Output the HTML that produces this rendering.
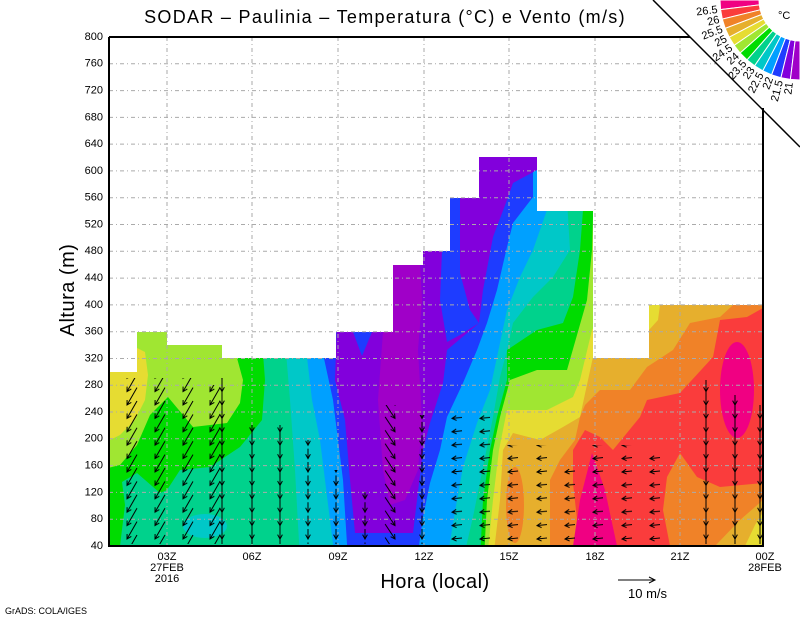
<!DOCTYPE html>
<html><head><meta charset="utf-8"><style>
html,body{margin:0;padding:0;background:#fff;}
svg{display:block;font-family:"Liberation Sans",sans-serif;}
</style></head><body>
<svg width="800" height="618" viewBox="0 0 800 618" xmlns="http://www.w3.org/2000/svg" xmlns:xlink="http://www.w3.org/1999/xlink">
<defs>
<clipPath id="cp"><path d="M109,546 L109,372 L137,372 L137,332 L167,332 L167,345 L222,345 L222,358 L336,358 L336,332 L393,332 L393,265 L423,265 L423,251 L450,251 L450,198 L479,198 L479,157 L537,157 L537,211 L593,211 L593,358 L649,358 L649,305 L763,305 L763,546 Z"/></clipPath>
<path id="aSW" d="M30,-14.4 L20,3 M24.3,0.4 L20,3 L20.1,-2" stroke="#000" fill="none"/>
<path id="aS" d="M20,-17 L20,3 M22.4,-1.4 L20,3 L17.6,-1.4" stroke="#000" fill="none"/>
<path id="aSs" d="M20,-7 L20,3 M22.4,-1.4 L20,3 L17.6,-1.4" stroke="#000" fill="none"/>
<path id="aSE" d="M10.1,-11.9 L20,3 M19.6,-2 L20,3 L15.6,0.7" stroke="#000" fill="none"/>
<path id="aW" d="M30,2 L20,3 M24.6,5 L20,3 L24.2,0.2" stroke="#000" fill="none"/>
<pattern id="pSW" patternUnits="userSpaceOnUse" width="40" height="13.4"><use xlink:href="#aSW" href="#aSW"/><use xlink:href="#aSW" href="#aSW" y="13.4"/><use xlink:href="#aSW" href="#aSW" y="26.8"/></pattern>
<pattern id="pS" patternUnits="userSpaceOnUse" width="40" height="13.4"><use xlink:href="#aS" href="#aS"/><use xlink:href="#aS" href="#aS" y="13.4"/><use xlink:href="#aS" href="#aS" y="26.8"/></pattern>
<pattern id="pSs" patternUnits="userSpaceOnUse" width="40" height="13.4"><use xlink:href="#aSs" href="#aSs"/><use xlink:href="#aSs" href="#aSs" y="13.4"/></pattern>
<pattern id="pSE" patternUnits="userSpaceOnUse" width="40" height="13.4"><use xlink:href="#aSE" href="#aSE"/><use xlink:href="#aSE" href="#aSE" y="13.4"/><use xlink:href="#aSE" href="#aSE" y="26.8"/></pattern>
<pattern id="pW" patternUnits="userSpaceOnUse" width="40" height="13.4"><use xlink:href="#aW" href="#aW"/><use xlink:href="#aW" href="#aW" y="13.4"/></pattern>
</defs>
<g clip-path="url(#cp)">
<rect x="100" y="100" width="700" height="500" fill="#00d28c"/>
<path fill="#00dc00" d="M100,300 L250,300 L262,340 L265,380 L262,420 L240,447 L210,467 L180,470 L167,490 L160,493 L137,473 L122,482 L125,505 L120,546 L100,546 Z"/>
<path fill="#a0e632" d="M100,300 L240,300 L237,358 L243,380 L240,403 L227,423 L193,427 L168,397 L150,415 L137,445 L120,465 L100,470 Z"/>
<path fill="#e6dc32" d="M100,360 L137,360 L137,348 L145,352 L148,375 L145,400 L135,420 L120,435 L100,445 Z"/>
<ellipse cx="205" cy="526" rx="22" ry="12" fill="#00c8c8"/>
<path fill="#00c8c8" d="M285,150 L285,340 L290,400 L295,470 L300,560 L463,560 L473,517 L483,467 L493,417 L500,377 L507,350 L513,323 L533,297 L553,277 L570,250 L567,200 L567,150 Z"/>
<path fill="#00a0ff" d="M305,150 L305,340 L312,400 L320,440 L330,520 L335,560 L447,560 L457,500 L463,467 L477,423 L490,390 L497,357 L507,310 L520,277 L533,250 L547,210 L547,150 Z"/>
<path fill="#1e3cff" d="M320,150 L320,340 L333,400 L343,480 L348,560 L417,560 L423,517 L430,483 L440,450 L447,417 L463,383 L477,350 L487,323 L497,290 L507,247 L513,223 L533,197 L533,150 Z"/>
<path fill="#8200dc" d="M337,320 L335,380 L345,420 L350,480 L355,533 L413,533 L417,500 L423,450 L430,423 L443,383 L447,350 L479,323 L483,290 L493,237 L507,200 L513,183 L537,170 L537,150 L330,150 Z"/>
<path fill="#1e3cff" d="M442,250 L450,198 L460,198 L460,273 L470,310 L479,323 L460,335 L447,342 L440,300 Z"/>
<path fill="#1e3cff" d="M353,332 L372,332 L362,356 Z"/>
<path fill="#a000c8" d="M383,332 L393,332 L393,265 L420,265 L422,300 L418,350 L422,420 L418,470 L405,500 L390,505 L383,470 L378,400 Z"/>
<path fill="#00dc00" d="M583,150 L583,210 L580,250 L573,297 L563,323 L537,330 L507,350 L507,380 L497,417 L490,450 L483,500 L480,560 L800,560 L800,150 Z"/>
<path fill="#a0e632" d="M595,150 L592,250 L587,300 L567,370 L537,370 L510,380 L500,417 L493,450 L487,500 L484,560 L800,560 L800,150 Z"/>
<path fill="#e6dc32" d="M600,150 L600,317 L592,330 L580,380 L573,397 L547,410 L507,410 L499,450 L493,500 L487,560 L800,560 L800,150 Z"/>
<path fill="#e6af2d" d="M800,150 L593,150 L593,357 L580,417 L563,427 L540,440 L513,433 L503,450 L500,500 L493,560 L800,560 Z"/>
<path fill="#e6dc32" d="M649,305 L660,305 L658,320 L649,330 Z"/>
<path fill="#f08228" d="M800,300 L733,305 L720,317 L690,323 L673,350 L647,367 L630,390 L600,390 L585,405 L580,417 L575,440 L560,460 L550,480 L550,560 L800,560 Z"/>
<ellipse cx="515" cy="505" rx="9" ry="38" fill="#f08228"/>
<path fill="#fa3c3c" d="M800,305 L763,308 L747,317 L720,320 L713,357 L680,393 L647,400 L640,417 L613,450 L600,437 L585,430 L573,450 L573,483 L580,546 L670,546 L663,510 L667,477 L680,453 L697,477 L720,487 L763,483 L800,483 Z"/>
<ellipse cx="737" cy="390" rx="17" ry="48" fill="#f00082"/>
<path fill="#f00082" d="M573,546 L580,500 L592,453 L605,490 L617,546 Z"/>
<path fill="#e6af2d" d="M715,546 L740,520 L763,500 L763,546 Z"/>
<path fill="#e6dc32" d="M745,546 L755,525 L763,512 L763,546 Z"/>
</g>
<g stroke="#aaa" stroke-width="1" stroke-dasharray="4,3,1,3" fill="none">
<path d="M109,519.2H763M109,492.4H763M109,465.6H763M109,438.8H763M109,412H763M109,385.3H763M109,358.5H763M109,331.7H763M109,304.9H763M109,278.1H763M109,251.3H763M109,224.5H763M109,197.7H763M109,170.9H763M109,144.1H763M109,117.4H763M109,90.6H763M109,63.8H763"/>
<path d="M167,37V546M252,37V546M338,37V546M424,37V546M509,37V546M595,37V546M680,37V546"/>
</g>
<g>
<rect transform="translate(107,0)" x="0" y="378" width="40" height="166" fill="url(#pSW)"/>
<rect transform="translate(135,0)" x="0" y="378" width="40" height="166" fill="url(#pSW)"/>
<rect transform="translate(163,0)" x="0" y="378" width="40" height="166" fill="url(#pSW)"/>
<rect transform="translate(190,0)" x="0" y="385" width="40" height="159" fill="url(#pSW)"/>
<rect transform="translate(202,0)" x="0" y="378" width="40" height="166" fill="url(#pS)"/>
<rect transform="translate(232,0)" x="0" y="425" width="40" height="119" fill="url(#pS)"/>
<rect transform="translate(260,0)" x="0" y="425" width="40" height="119" fill="url(#pS)"/>
<rect transform="translate(288,0)" x="0" y="440" width="40" height="104" fill="url(#pSs)"/>
<rect transform="translate(316,0)" x="0" y="470" width="40" height="74" fill="url(#pSs)"/>
<rect transform="translate(345,0)" x="0" y="492" width="40" height="52" fill="url(#pSs)"/>
<rect transform="translate(375,0)" x="0" y="405" width="40" height="139" fill="url(#pSE)"/>
<rect transform="translate(402,0)" x="0" y="415" width="40" height="129" fill="url(#pSs)"/>
<rect transform="translate(432,0)" x="0" y="410" width="40" height="134" fill="url(#pW)"/>
<rect transform="translate(460,0)" x="0" y="410" width="40" height="134" fill="url(#pW)"/>
<rect transform="translate(488,0)" x="0" y="445" width="40" height="99" fill="url(#pW)"/>
<rect transform="translate(517,0)" x="0" y="445" width="40" height="99" fill="url(#pW)"/>
<rect transform="translate(545,0)" x="0" y="465" width="40" height="79" fill="url(#pW)"/>
<rect transform="translate(573,0)" x="0" y="445" width="40" height="99" fill="url(#pW)"/>
<rect transform="translate(602,0)" x="0" y="445" width="40" height="99" fill="url(#pW)"/>
<rect transform="translate(630,0)" x="0" y="455" width="40" height="89" fill="url(#pW)"/>
<rect transform="translate(686,0)" x="0" y="380" width="40" height="164" fill="url(#pS)"/>
<rect transform="translate(715,0)" x="0" y="395" width="40" height="149" fill="url(#pS)"/>
<rect transform="translate(740,0)" x="0" y="405" width="40" height="139" fill="url(#pS)"/>
</g>
<polygon points="653,0 800,0 800,147" fill="#fff"/>
<g stroke="#fff" stroke-width="1">
<polygon fill="#f00082" points="720,0 720.6,9.6 759.3,4.9 759,0"/>
<polygon fill="#fa3c3c" points="720.6,9.6 722.3,19.1 760.2,9.8 759.3,4.9"/>
<polygon fill="#f08228" points="722.3,19.1 725.2,28.4 761.7,14.5 760.2,9.8"/>
<polygon fill="#e6af2d" points="725.2,28.4 729.2,37.2 763.7,19.1 761.7,14.5"/>
<polygon fill="#e6dc32" points="729.2,37.2 734.2,45.4 766.3,23.3 763.7,19.1"/>
<polygon fill="#a0e632" points="734.2,45.4 740.1,53 769.3,27.2 766.3,23.3"/>
<polygon fill="#00dc00" points="740.1,53 747,59.9 772.8,30.7 769.3,27.2"/>
<polygon fill="#00d28c" points="747,59.9 754.6,65.8 776.7,33.7 772.8,30.7"/>
<polygon fill="#00c8c8" points="754.6,65.8 762.8,70.8 780.9,36.3 776.7,33.7"/>
<polygon fill="#00a0ff" points="762.8,70.8 771.6,74.8 785.5,38.3 780.9,36.3"/>
<polygon fill="#1e3cff" points="771.6,74.8 780.9,77.7 790.2,39.8 785.5,38.3"/>
<polygon fill="#8200dc" points="780.9,77.7 790.4,79.4 795.1,40.7 790.2,39.8"/>
<polygon fill="#a000c8" points="790.4,79.4 800,80 800,41 795.1,40.7"/>
</g>
<g stroke="#000" stroke-width="2" fill="none">
<path d="M109,37V546H763V108"/>
<path d="M109,37H690"/>
</g>
<line x1="653" y1="0" x2="800" y2="147" stroke="#000" stroke-width="1.5"/>
<g font-size="11" text-anchor="end" dominant-baseline="middle" fill="#000">
<text transform="translate(717.6,10) rotate(-6.9)">26.5</text>
<text transform="translate(719.4,19.9) rotate(-13.8)">26</text>
<text transform="translate(722.4,29.4) rotate(-20.8)">25.5</text>
<text transform="translate(726.5,38.6) rotate(-27.7)">25</text>
<text transform="translate(731.7,47.2) rotate(-34.6)">24.5</text>
<text transform="translate(737.9,55) rotate(-41.5)">24</text>
<text transform="translate(745,62.1) rotate(-48.5)">23.5</text>
<text transform="translate(752.8,68.3) rotate(-55.4)">23</text>
<text transform="translate(761.4,73.5) rotate(-62.3)">22.5</text>
<text transform="translate(770.6,77.6) rotate(-69.2)">22</text>
<text transform="translate(780.1,80.6) rotate(-76.2)">21.5</text>
<text transform="translate(790,82.4) rotate(-83.1)">21</text>
</g>
<text x="778" y="19" font-size="11">°C</text>
<text x="385" y="23" font-size="18" letter-spacing="1.3" text-anchor="middle">SODAR – Paulinia – Temperatura (°C) e Vento (m/s)</text>
<g font-size="11" text-anchor="end" dominant-baseline="middle">
<text x="103" y="546">40</text><text x="103" y="519.2">80</text><text x="103" y="492.4">120</text><text x="103" y="465.6">160</text><text x="103" y="438.8">200</text><text x="103" y="412">240</text><text x="103" y="385.3">280</text><text x="103" y="358.5">320</text><text x="103" y="331.7">360</text><text x="103" y="304.9">400</text><text x="103" y="278.1">440</text><text x="103" y="251.3">480</text><text x="103" y="224.5">520</text><text x="103" y="197.7">560</text><text x="103" y="170.9">600</text><text x="103" y="144.1">640</text><text x="103" y="117.4">680</text><text x="103" y="90.6">720</text><text x="103" y="63.8">760</text><text x="103" y="37">800</text>
</g>
<g font-size="11" text-anchor="middle">
<text x="167" y="560">03Z</text><text x="167" y="571">27FEB</text><text x="167" y="582">2016</text>
<text x="252" y="560">06Z</text><text x="338" y="560">09Z</text><text x="424" y="560">12Z</text><text x="509" y="560">15Z</text><text x="595" y="560">18Z</text><text x="680" y="560">21Z</text>
<text x="765" y="560">00Z</text><text x="765" y="571">28FEB</text>
</g>
<text x="435" y="588" font-size="20" letter-spacing="0.5" text-anchor="middle">Hora (local)</text>
<text transform="translate(74,290) rotate(-90)" font-size="20" letter-spacing="0.5" text-anchor="middle">Altura (m)</text>
<text x="5" y="614" font-size="9">GrADS: COLA/IGES</text>
<line x1="618" y1="580" x2="655" y2="580" stroke="#000"/>
<path d="M649,577 L655,580 L649,583" stroke="#000" fill="none"/>
<text x="628" y="598" font-size="13">10 m/s</text>
</svg>
</body></html>
